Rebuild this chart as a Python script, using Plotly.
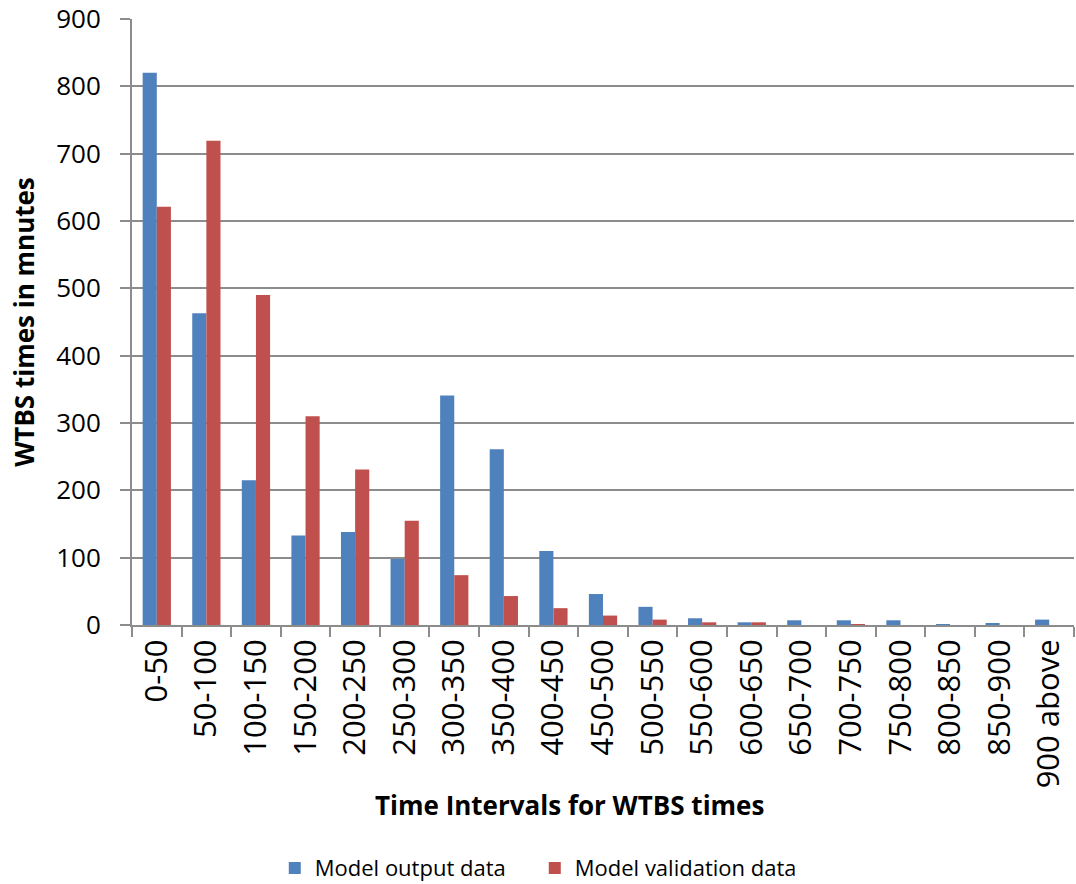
import plotly.graph_objects as go

categories = ["0-50", "50-100", "100-150", "150-200", "200-250", "250-300", "300-350",
              "350-400", "400-450", "450-500", "500-550", "550-600", "600-650", "650-700",
              "700-750", "750-800", "800-850", "850-900", "900 above"]
model_output = [820, 463, 215, 133, 138, 98, 341, 261, 110, 46, 27, 10, 4, 7, 7, 7, 1, 2, 8]
model_validation = [621, 719, 490, 310, 231, 155, 74, 43, 25, 14, 8, 4, 4, 0, 1, 0, 0, 0, 0]
y_ticks = [0, 100, 200, 300, 400, 500, 600, 700, 800, 900]

fig = go.Figure()
fig.add_trace(go.Bar(x=categories, y=model_output, name="Model output data",
                     marker=dict(color="#4F81BD", line=dict(width=0))))
fig.add_trace(go.Bar(x=categories, y=model_validation, name="Model validation data",
                     marker=dict(color="#C0504D", line=dict(width=0))))

font_family = "Open Sans, DejaVu Sans, sans-serif"
grid_col = "#8c8c8c"
fig.update_layout(
    width=1076, height=884,
    margin=dict(l=132, r=2, t=19, b=259, autoexpand=False),
    paper_bgcolor="white", plot_bgcolor="white",
    barmode="group", bargap=0.43, bargroupgap=0,
    font=dict(family=font_family, size=22, color="black"),
    showlegend=True,
    legend=dict(orientation="h", x=0.497, xanchor="center", xref="container",
                y=0.018, yanchor="middle", yref="container",
                font=dict(size=22), traceorder="normal", itemwidth=30,
                entrywidth=215),
    xaxis=dict(
        type="category", tickangle=-90, tickson="boundaries",
        ticks="outside", ticklen=10, tickcolor=grid_col, tickwidth=2,
        showline=True, linecolor=grid_col, linewidth=2,
        showgrid=False, tickfont=dict(size=31), automargin=False,
    ),
    yaxis=dict(
        range=[0, 900], tickvals=y_ticks, ticks="outside", ticklen=10,
        tickcolor=grid_col, tickwidth=2, ticklabelstandoff=14,
        showline=True, linecolor=grid_col, linewidth=2,
        showgrid=True, gridcolor=grid_col, gridwidth=2,
        zeroline=False, tickfont=dict(size=26), automargin=False,
        title=dict(text="<b>WTBS times in mnutes</b>", font=dict(size=26), standoff=14),
    ),
    annotations=[dict(text="<b>Time Intervals for WTBS times</b>", xref="paper", yref="paper",
                      x=(569 - 132) / 942, y=(625 - 805) / 606, xanchor="center", yanchor="middle",
                      showarrow=False, font=dict(size=26))],
)

fig.write_html("out.html")
